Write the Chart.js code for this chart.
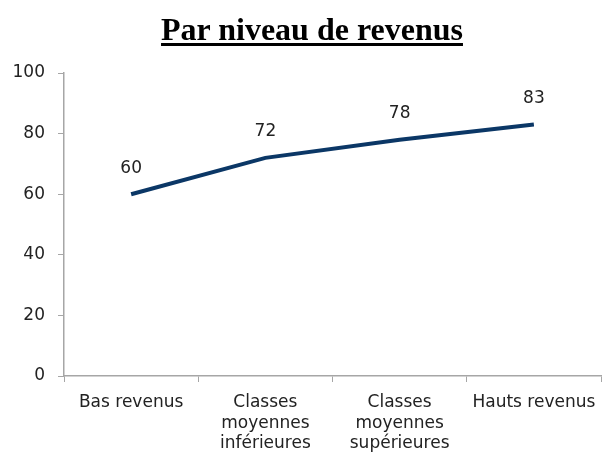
<!DOCTYPE html>
<html><head><meta charset="utf-8">
<script src="https://cdn.jsdelivr.net/npm/chart.js@4"></script>
<style>
html,body{margin:0;padding:0;background:#fff;width:603px;height:454px;overflow:hidden}
#wrap{position:relative;width:603px;height:454px}
#title{position:absolute;left:0;top:11px;width:624px;text-align:center;font-family:"Liberation Serif","Times New Roman",serif;font-weight:bold;font-size:32px;line-height:36px;text-decoration:underline;text-decoration-thickness:3px;text-underline-offset:3px;color:#000}
canvas{position:absolute;left:0;top:0}
</style></head>
<body><div id="wrap"><canvas id="c" width="603" height="454"></canvas><div id="title">Par niveau de revenus</div></div>
<script>
const categories = [["Bas revenus"], ["Classes","moyennes","inférieures"], ["Classes","moyennes","supérieures"], ["Hauts revenus"]];
const values = [60, 72, 78, 83];
const yTicks = [0, 20, 40, 60, 80, 100];

const FONT = "'DejaVu Sans', Verdana, sans-serif";
const labelPlugin = {
  id: 'pointLabels',
  afterDatasetsDraw(chart) {
    const ctx = chart.ctx;
    const meta = chart.getDatasetMeta(0);
    ctx.save();
    ctx.font = "17px " + FONT;
    ctx.fillStyle = "#222";
    ctx.textAlign = "center";
    ctx.textBaseline = "middle";
    meta.data.forEach((pt, i) => {
      ctx.fillText(String(values[i]), pt.x, pt.y - 26);
    });
    ctx.restore();
  }
};

new Chart(document.getElementById('c'), {
  type: 'line',
  data: { labels: categories, datasets: [{ data: values, borderColor: '#0b3766', borderWidth: 4, pointRadius: 0, tension: 0, fill: false }] },
  options: {
    responsive: false, animation: false,
    layout: { padding: { top: 73, right: 2, left: 0, bottom: 0 } },
    plugins: { legend: { display: false }, tooltip: { enabled: false }, title: { display: false } },
    scales: {
      x: {
        offset: true,
        afterFit(s) { s.height = 78; s.paddingLeft = 0; s.paddingRight = 0; },
        grid: { offset: true, drawOnChartArea: false, drawTicks: true, tickLength: 6, color: '#a6a6a6' },
        border: { color: '#a6a6a6', width: 1.5 },
        ticks: { font: { family: FONT, size: 17, lineHeight: 1.18 }, color: '#222', padding: 11, maxRotation: 0, autoSkip: false }
      },
      y: {
        min: 0, max: 100,
        afterBuildTicks(s) { s.ticks = yTicks.map(v => ({ value: v })); },
        afterFit(s) { s.width = 64; },
        grid: { drawOnChartArea: false, drawTicks: true, tickLength: 6, color: '#a6a6a6' },
        border: { color: '#a6a6a6', width: 1.5 },
        ticks: { font: { family: FONT, size: 17 }, color: '#222', padding: 13 }
      }
    }
  },
  plugins: [labelPlugin]
});
</script></body></html>
